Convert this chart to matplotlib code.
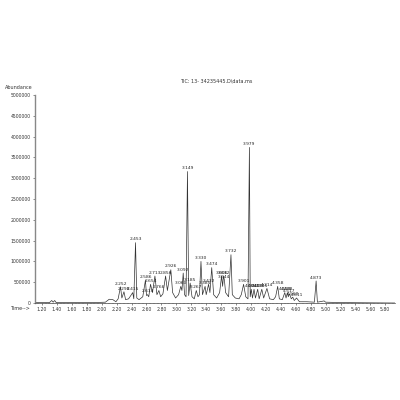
import numpy as np
import matplotlib
matplotlib.use("Agg")
import matplotlib.pyplot as plt
from matplotlib.ticker import AutoMinorLocator, NullLocator

# TIC trace vertices (time in min, abundance in millions)
trace_time = [1.11, 1.30, 1.33, 1.35, 1.37, 1.39, 1.60, 1.90, 2.05, 2.10, 2.15, 2.19,
              2.22, 2.252, 2.27, 2.298, 2.32, 2.36, 2.39, 2.415, 2.43, 2.453, 2.47,
              2.50, 2.55, 2.586, 2.60, 2.614, 2.63, 2.654, 2.68, 2.713, 2.74, 2.766,
              2.79, 2.82, 2.856, 2.88, 2.926, 2.95, 2.99, 3.03, 3.060, 3.075, 3.092,
              3.11, 3.13, 3.149, 3.165, 3.185, 3.21, 3.24, 3.267, 3.29, 3.31, 3.330,
              3.35, 3.385, 3.40, 3.432, 3.45, 3.474, 3.50, 3.54, 3.58, 3.606, 3.62,
              3.632, 3.644, 3.66, 3.70, 3.732, 3.75, 3.79, 3.84, 3.87, 3.901, 3.93,
              3.96, 3.979, 3.99, 4.004, 4.02, 4.041, 4.06, 4.090, 4.11, 4.145, 4.17,
              4.214, 4.25, 4.30, 4.33, 4.358, 4.38, 4.42, 4.453, 4.47, 4.488, 4.50,
              4.517, 4.54, 4.560, 4.58, 4.611, 4.65, 4.75, 4.85, 4.873, 4.89, 4.98,
              5.00, 5.20, 5.93]
trace_abund = [0.01, 0.01, 0.06, 0.02, 0.06, 0.01, 0.01, 0.01, 0.02, 0.09, 0.08, 0.03,
               0.10, 0.39, 0.12, 0.27, 0.08, 0.10, 0.18, 0.25, 0.10, 1.45, 0.12,
               0.08, 0.15, 0.55, 0.18, 0.20, 0.15, 0.45, 0.25, 0.65, 0.20, 0.30,
               0.15, 0.22, 0.65, 0.30, 0.80, 0.25, 0.12, 0.20, 0.40, 0.30, 0.72,
               0.20, 0.15, 3.16, 0.18, 0.48, 0.15, 0.10, 0.30, 0.15, 0.20, 1.00,
               0.20, 0.40, 0.20, 0.45, 0.25, 0.85, 0.20, 0.12, 0.25, 0.65, 0.40,
               0.65, 0.55, 0.25, 0.15, 1.16, 0.20, 0.12, 0.10, 0.20, 0.45, 0.15,
               0.10, 3.74, 0.15, 0.33, 0.12, 0.33, 0.12, 0.33, 0.10, 0.33, 0.12,
               0.35, 0.10, 0.08, 0.15, 0.40, 0.10, 0.08, 0.25, 0.12, 0.25, 0.15,
               0.22, 0.10, 0.14, 0.06, 0.12, 0.03, 0.03, 0.02, 0.53, 0.02, 0.05,
               0.02, 0.01, 0.0]

# labelled retention times
peak_labels = ["2.252", "2.298", "2.415", "2.453", "2.586", "2.614", "2.654", "2.713",
               "2.766", "2.856", "2.926", "3.060", "3.092", "3.149", "3.185", "3.267",
               "3.330", "3.385", "3.432", "3.474", "3.606", "3.632", "3.644", "3.732",
               "3.901", "3.979", "4.004", "4.041", "4.090", "4.145", "4.214", "4.358",
               "4.453", "4.488", "4.517", "4.560", "4.611", "4.873"]

y_ticks = [0, 500000, 1000000, 1500000, 2000000, 2500000, 3000000,
           3500000, 4000000, 4500000, 5000000]
x_ticks = [1.20, 1.40, 1.60, 1.80, 2.00, 2.20, 2.40, 2.60, 2.80, 3.00, 3.20, 3.40,
           3.60, 3.80, 4.00, 4.20, 4.40, 4.60, 4.80, 5.00, 5.20, 5.40, 5.60, 5.80]

t = np.array(trace_time)
a = np.array(trace_abund) * 1e6

fig = plt.figure(figsize=(4, 4), dpi=100)
ax = fig.add_axes([0.0875, 0.2425, 0.9, 0.52])
ax.plot(t, a, color="#333333", lw=0.5)

for lab in peak_labels:
    pt = float(lab)
    h = np.interp(pt, t, a)
    ax.text(pt, h + 30000, lab, ha="center", va="bottom", fontsize=3.2, color="#222222")

ax.set_xlim(1.106, 5.93)
ax.set_ylim(0, 5000000)
ax.set_xticks(x_ticks)
ax.set_xticklabels([f"{v:.2f}" for v in x_ticks])
ax.set_yticks(y_ticks)
ax.set_yticklabels([str(v) for v in y_ticks])
ax.tick_params(labelsize=3.3, length=1.5, width=0.4, colors="#333333", pad=1.5)
ax.xaxis.set_minor_locator(AutoMinorLocator(4))
ax.yaxis.set_minor_locator(NullLocator())
ax.tick_params(which="minor", length=1, width=0.3, colors="#555555")
for s in ["top", "right"]:
    ax.spines[s].set_visible(False)
ax.spines["left"].set_color("#888888")
ax.spines["left"].set_linewidth(1.0)
ax.spines["bottom"].set_color("#444444")
ax.spines["bottom"].set_linewidth(0.5)

fig.text(0.54, 0.797, "TIC: 13- 34235445.D\\data.ms", ha="center", va="center",
         fontsize=3.5, color="#333333")
fig.text(0.012, 0.782, "Abundance", ha="left", va="center", fontsize=3.5, color="#333333")
fig.text(0.025, 0.228, "Time-->", ha="left", va="center", fontsize=3.5, color="#333333")

fig.savefig("out.png", dpi=100)
